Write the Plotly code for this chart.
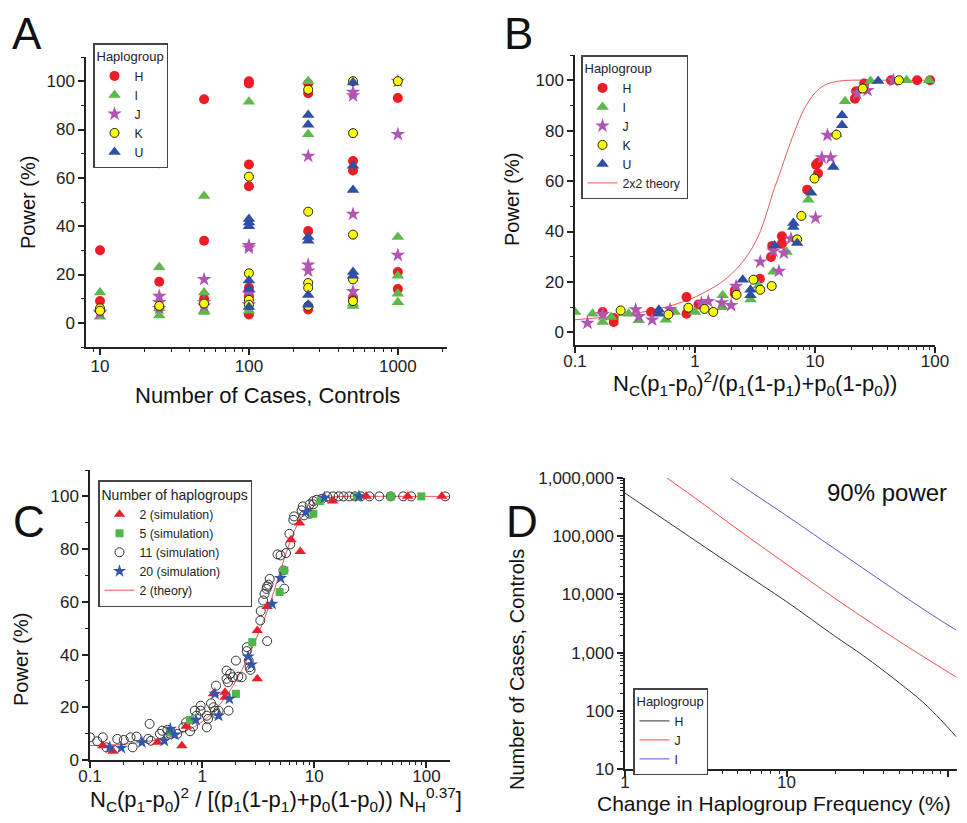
import plotly.graph_objects as go

FONT = "Liberation Sans, Arial, sans-serif"
INK = "#222222"

# ---------------- Panel A data (Power vs number of cases) ----------------
A_H_x = [10, 10, 10, 25, 25, 25, 50, 50, 50, 100, 100, 100, 100, 100, 100, 100, 250, 250, 250, 250, 500, 500, 500, 1000, 1000, 1000]
A_H_y = [30, 9, 5, 66, 17, 6, 92.5, 34, 10, 100, 99, 65.5, 56.5, 14.5, 11, 3.5, 99, 95, 38, 5.5, 67, 63, 10.5, 93, 21, 14]
A_I_x = [10, 10, 25, 25, 25, 50, 50, 50, 50, 100, 100, 250, 250, 500, 500, 1000, 1000, 1000, 1000]
A_I_y = [12.5, 2.5, 23, 6, 3, 52.5, 12.5, 5, 4.5, 91.5, 5, 100, 78, 7, 8, 35.5, 19.5, 12, 8.5]
A_J_x = [10, 10, 25, 25, 25, 50, 50, 50, 100, 100, 100, 100, 250, 250, 250, 500, 500, 500, 500, 1000, 1000, 1000]
A_J_y = [4.5, 4, 11, 8.5, 6, 18, 8.5, 7, 32, 31, 12, 7.5, 69, 24, 21.5, 95.5, 94, 45, 13, 100, 78, 28]
A_K_x = [10, 10, 25, 50, 100, 100, 100, 100, 250, 250, 250, 250, 250, 500, 500, 500, 500, 500, 1000]
A_K_y = [6, 5, 7, 8, 60.5, 20.5, 9.5, 7.5, 96.5, 46, 16.5, 14.5, 7, 100, 78.5, 36.5, 18, 9, 100]
A_U_x = [100, 100, 100, 100, 100, 100, 250, 250, 250, 250, 250, 250, 500, 500, 500, 500, 500]
A_U_y = [43, 41.5, 40, 17.5, 14, 6.5, 86, 82, 35.5, 34, 11.5, 7.5, 99.5, 65, 55, 21, 19.5]

# ---------------- Panel B data (Power vs scaled effect) ----------------
B_H_x = [0.17, 0.21, 0.21, 0.43, 0.85, 0.85, 1.07, 2.15, 2.15, 3.47, 4.3, 4.4, 5.3, 5.3, 8.6, 10.2, 10.6, 10.6, 21.5, 22, 25.7, 43, 71, 91]
B_H_y = [8.1, 5.7, 4.1, 8.1, 14, 7.4, 11.1, 16.7, 15.3, 21.3, 29.9, 34.3, 38.1, 35.2, 56.6, 66.5, 67.3, 63, 92.7, 95.6, 98.7, 100, 100, 100]
B_I_x = [0.1, 0.14, 0.17, 0.2, 0.28, 0.34, 0.57, 0.68, 1.0, 1.7, 1.7, 2.9, 3.4, 4.5, 5.8, 8.8, 15, 17.8, 29, 58, 89]
B_I_y = [8.1, 7.4, 4.1, 6.1, 7.4, 4.8, 5, 8.1, 8.1, 10, 14.7, 13, 18.6, 24, 31.9, 52.6, 78.6, 91.7, 99.7, 100, 100]
B_J_x = [0.127, 0.17, 0.32, 0.34, 0.44, 0.62, 1.13, 1.29, 1.67, 2.0, 2.2, 3.5, 4.5, 5.0, 5.5, 6.3, 10.1, 11.4, 13.5, 12.7, 22.5, 27.4, 45]
B_J_y = [3.7, 7.1, 9, 6.3, 5, 9.1, 11.6, 12.3, 11.8, 10.7, 18.3, 28, 32.3, 24.3, 31.5, 37.2, 45.4, 69.3, 69.3, 78.2, 94.7, 96, 100]
B_K_x = [0.24, 0.6, 0.88, 1.2, 1.42, 2.22, 3.07, 3.5, 4.36, 7.1, 7.7, 9.9, 15.1, 25, 50]
B_K_y = [8.7, 7.1, 9.8, 9.3, 8.1, 14.9, 20.9, 16.9, 18.4, 36.9, 46.2, 61, 78.4, 96.7, 100]
B_U_x = [0.5, 0.5, 2.5, 2.9, 2.9, 4.6, 6.6, 6.6, 7.1, 9.3, 14.2, 16.8, 16.8, 33.6]
B_U_y = [7.4, 9, 20.9, 16.9, 14.7, 34.5, 43.4, 41.8, 35.4, 55.4, 65.6, 82.1, 86.1, 99.7]
B_theory_x = [0.1, 0.2, 0.3, 0.42, 0.6, 0.8, 1.0, 1.5, 2.0, 2.5, 3.0, 3.5, 4.0, 4.5, 5.0, 6.0, 7.0, 8.0, 10, 12, 15, 20, 30, 100]
B_theory_y = [5, 6.3, 7.4, 8.6, 10.3, 12.2, 14, 18.5, 23, 28, 33.5, 40, 48, 56, 62, 73, 81.5, 88, 95, 98, 99.5, 100, 100, 100]

# ---------------- Panel C data (number of haplogroups) ----------------
C_2_x = [0.13, 0.16, 0.40, 0.66, 0.72, 1.26, 1.6, 1.6, 3.1, 3.1, 3.8, 6.2, 7.4, 7.5, 14.6, 29, 68, 137]
C_2_y = [5.4, 3.3, 6.7, 5.4, 12.8, 25.1, 25.7, 23.8, 30.8, 49.1, 58.2, 83.5, 89.9, 79.1, 98.2, 100, 100, 100]
C_5_x = [0.52, 0.78, 2.0, 2.8, 4.9, 5.4, 9.8, 11.3, 24, 48, 90]
C_5_y = [10.5, 15.2, 25.1, 44.7, 63.7, 71.9, 93.4, 98.2, 100, 100, 100]
C_11_x = [0.1, 0.116, 0.13, 0.14, 0.175, 0.2, 0.23, 0.24, 0.26, 0.33, 0.34, 0.35, 0.42, 0.44, 0.49, 0.52, 0.6,
          0.68, 0.72, 0.78, 0.83, 0.86, 0.89, 0.97, 0.97, 1.1, 1.1, 1.13, 1.2, 1.26, 1.3, 1.34, 1.4, 1.33, 1.65,
          1.65, 1.7, 1.72, 1.78, 1.87, 2.0, 2.1, 2.25, 2.5, 2.5, 2.6, 2.65, 2.7, 3.3, 3.33, 3.5, 3.6, 3.75, 3.8,
          4.0, 3.8, 3.9, 4.7, 5.0, 5.3, 5.4, 5.6, 6.0, 6.1, 6.5, 6.6, 7.7, 7.9, 8.1, 9.1, 9.1, 9.8, 9.8, 10.5,
          11.7, 13, 14.7, 16.5, 18.2, 20.5, 23, 26, 31, 38, 48, 62, 73, 147]
C_11_y = [8.6, 7.1, 8.6, 4.8, 8, 7.6, 8.6, 4.8, 8.9, 8, 13.7, 7.3, 9.9, 11.1, 11.4, 9.9, 9.9,
          12.4, 14.3, 10.9, 12.7, 18.7, 16.8, 20.6, 18.7, 16.8, 12.4, 15.6, 21.5, 20, 18.7, 17.5, 18.7, 28.2, 33.9,
          30.8, 29.5, 18.7, 32.7, 31.4, 37.7, 31.6, 31.4, 42.8, 41.3, 37.7, 35.2, 34.2, 52.9, 56.5, 60.5, 63, 64.9, 65.8,
          68.7, 45.1, 66.5, 78, 77.6, 71.9, 65, 78.5, 85.8, 81.8, 91.1, 92.4, 94.7, 96.2, 92.8, 97, 93.4, 98.2, 97, 98.7,
          99.1, 100, 100, 100, 100, 100, 100, 100, 100, 100, 100, 100, 100, 100]
C_20_x = [0.15, 0.19, 0.29, 0.46, 0.52, 0.57, 0.88, 1.3, 1.4, 1.75, 2.57, 2.75, 4.2, 5.0, 8.4, 12.3, 25]
C_20_y = [4.8, 4.6, 6.7, 7.3, 11.8, 9.6, 15.2, 25.1, 16.8, 23.2, 39.2, 36.2, 59.2, 69, 94, 99.5, 100]
C_theory_x = [0.1, 0.2, 0.3, 0.5, 0.7, 1.0, 1.5, 2, 2.5, 3, 3.5, 4, 5, 6, 7, 8, 10, 12, 15, 20, 50, 180]
C_theory_y = [5.5, 6, 6.8, 8.6, 10.8, 14.5, 22, 30, 38, 45.5, 52.5, 59, 72, 82, 89, 93, 97.5, 99, 99.8, 100, 100, 100]

# ---------------- Panel D data (sample size for 90% power) ----------------
D_H_x = [1, 2, 5, 10, 20, 30, 50, 70, 90, 112]
D_H_y = [550000, 150000, 27000, 7500, 1900, 880, 300, 140, 70, 36]
D_J_x = [1.82, 3, 5, 10, 20, 50, 80, 112]
D_J_y = [1000000, 370000, 130000, 33000, 8500, 1550, 680, 380]
D_I_x = [4.5, 6, 10, 20, 50, 80, 112]
D_I_y = [1000000, 580000, 225000, 60000, 10500, 4400, 2450]

C_RED = "#ee1c25"
C_GREEN = "#5cb94a"
C_PINK = "#b155b5"
C_YELLOW = "#ffff00"
C_BLUE = "#2e4fa3"

fig = go.Figure()


def sc(x, y, name, sym, color, size, xa, ya, legend, line=None, rank=1000):
    fig.add_trace(go.Scatter(
        x=x, y=y, mode="markers", name=name, xaxis=xa, yaxis=ya, legend=legend, legendrank=rank,
        marker=dict(symbol=sym, color=color, size=size,
                    line=line if line else dict(width=0))))


# Panel A
sc(A_H_x, A_H_y, "H", "circle", C_RED, 10, "x", "y", "legend")
sc(A_I_x, A_I_y, "I", "triangle-up", C_GREEN, 11, "x", "y", "legend")
sc(A_J_x, A_J_y, "J", "star", C_PINK, 11, "x", "y", "legend")
sc(A_K_x, A_K_y, "K", "circle", C_YELLOW, 9, "x", "y", "legend", dict(width=1, color="#222"))
sc(A_U_x, A_U_y, "U", "triangle-up", C_BLUE, 11, "x", "y", "legend")

# Panel B
fig.add_trace(go.Scatter(x=B_theory_x, y=B_theory_y, mode="lines", name="2x2 theory",
                         xaxis="x2", yaxis="y2", legend="legend2", legendrank=1100,
                         line=dict(color="#ea5a5a", width=1, shape="spline")))
sc(B_H_x, B_H_y, "H", "circle", C_RED, 10, "x2", "y2", "legend2")
sc(B_I_x, B_I_y, "I", "triangle-up", C_GREEN, 11, "x2", "y2", "legend2")
sc(B_J_x, B_J_y, "J", "star", C_PINK, 11, "x2", "y2", "legend2")
sc(B_K_x, B_K_y, "K", "circle", C_YELLOW, 9, "x2", "y2", "legend2", dict(width=1, color="#222"))
sc(B_U_x, B_U_y, "U", "triangle-up", C_BLUE, 11, "x2", "y2", "legend2")

# Panel C
fig.add_trace(go.Scatter(x=C_theory_x, y=C_theory_y, mode="lines", name="2 (theory)",
                         xaxis="x3", yaxis="y3", legend="legend3", legendrank=1100,
                         line=dict(color="#ea5a5a", width=1, shape="spline")))
sc(C_11_x, C_11_y, "11 (simulation)", "circle-open", "#333333", 9, "x3", "y3", "legend3",
   dict(width=1, color="#333"), rank=1000)
sc(C_2_x, C_2_y, "2 (simulation)", "triangle-up", "#e8202a", 10, "x3", "y3", "legend3", rank=900)
sc(C_5_x, C_5_y, "5 (simulation)", "square", "#4cb848", 8, "x3", "y3", "legend3", rank=950)
sc(C_20_x, C_20_y, "20 (simulation)", "star", "#3355aa", 10, "x3", "y3", "legend3", rank=1050)

# Panel D
for xs, ys, nm, col in [(D_H_x, D_H_y, "H", "#333333"), (D_J_x, D_J_y, "J", "#ff4a4a"), (D_I_x, D_I_y, "I", "#5a5ad0")]:
    fig.add_trace(go.Scatter(x=xs, y=ys, mode="lines", name=nm, xaxis="x4", yaxis="y4", legend="legend4",
                             line=dict(color=col, width=1, shape="spline")))

# the page body adds an 8px margin around the figure; positions below are page pixels
OFF = 8
W, H = 967 - 2 * OFF, 823 - 2 * OFF


def px(x):
    return (x - OFF) / W


def py(y):
    return 1 - (y - OFF) / H


def dx(a, b):
    return [px(a), px(b)]


def dy(top, bottom):
    return [py(bottom), py(top)]


def axis(**kw):
    d = dict(showline=True, linecolor=INK, linewidth=1.5, ticks="outside", ticklen=6, tickwidth=1.5,
             tickcolor=INK, showgrid=False, zeroline=False, mirror=False, automargin=False,
             tickfont=dict(family=FONT, size=17, color=INK))
    d.update(kw)
    return d


def logminor(decades):
    vals = []
    for e in decades:
        for m in range(2, 10):
            vals.append(m * 10 ** e)
    return vals


minor_lin = dict(ticks="outside", ticklen=3, tickwidth=1.2, tickcolor=INK, dtick=10, tick0=0)

fig.update_layout(
    width=W, height=H, margin=dict(l=0, r=0, t=0, b=0, autoexpand=False),
    paper_bgcolor="white", plot_bgcolor="white",
    font=dict(family=FONT, color=INK),
    xaxis=axis(type="log", domain=dx(86, 447), range=[0.906, 3.33], anchor="y", ticklabelstandoff=-3,
               tickvals=[10, 100, 1000], ticktext=["10", "100", "1000"],
               minor=dict(ticks="outside", ticklen=3, tickwidth=1.2, tickcolor=INK,
                          tickvals=[8, 9] + logminor([1, 2]) + [2000])),
    yaxis=axis(domain=dy(57, 347), range=[-10, 110], anchor="x",
               tickvals=[0, 20, 40, 60, 80, 100], minor=minor_lin),
    xaxis2=axis(type="log", domain=dx(575, 935), range=[-1, 2], anchor="y2", ticklabelstandoff=-6,
                tickvals=[0.1, 1, 10, 100], ticktext=["0.1", "1", "10", "100"],
                minor=dict(ticks="outside", ticklen=3, tickwidth=1.2, tickcolor=INK,
                           tickvals=logminor([-1, 0, 1]))),
    yaxis2=axis(domain=dy(55, 345), range=[-5, 110], anchor="x2",
                tickvals=[0, 20, 40, 60, 80, 100], minor=minor_lin),
    xaxis3=axis(type="log", domain=dx(90, 450), range=[-1, 2.21], anchor="y3", ticklabelstandoff=-6,
                tickvals=[0.1, 1, 10, 100], ticktext=["0.1", "1", "10", "100"],
                minor=dict(ticks="outside", ticklen=3, tickwidth=1.2, tickcolor=INK,
                           tickvals=logminor([-1, 0, 1]))),
    yaxis3=axis(domain=dy(470, 760), range=[0, 110], anchor="x3",
                tickvals=[0, 20, 40, 60, 80, 100], minor=minor_lin),
    xaxis4=axis(type="log", domain=dx(625, 957), range=[0, 2.055], anchor="y4", ticklabelstandoff=-9,
                tickvals=[1, 10, 100], ticktext=["1", "10", "100"],
                minor=dict(ticks="outside", ticklen=3, tickwidth=1.2, tickcolor=INK,
                           tickvals=logminor([0, 1]))),
    yaxis4=axis(type="log", domain=dy(478, 769), range=[1, 6], anchor="x4",
                tickvals=[10, 100, 1000, 10000, 100000, 1000000],
                ticktext=["10", "100", "1,000", "10,000", "100,000", "1,000,000"],
                minor=dict(ticks="outside", ticklen=3, tickwidth=1.2, tickcolor=INK,
                           tickvals=logminor([1, 2, 3, 4, 5]))),
)

leg_common = dict(xanchor="left", yanchor="top", bgcolor="white", bordercolor="#444", borderwidth=1.5,
                  font=dict(family=FONT, size=12.3, color=INK), itemclick=False,
                  tracegroupgap=0, traceorder="normal")

fig.update_layout(
    legend=dict(x=px(93), y=py(43), title=dict(text="Haplogroup", font=dict(size=13)), **leg_common),
    legend2=dict(x=px(581), y=py(55), title=dict(text="Haplogroup", font=dict(size=13)), **leg_common),
    legend3=dict(x=px(98), y=py(480), title=dict(text="Number of haplogroups", font=dict(size=14)),
                 **leg_common),
    legend4=dict(x=px(633), y=py(688), title=dict(text="Haplogroup", font=dict(size=13)), **leg_common),
)

ann = []


def text(x, y, s, size, angle=0, anchor="center"):
    ann.append(dict(x=px(x), y=py(y), xref="paper", yref="paper", text=s, showarrow=False,
                    textangle=angle, xanchor=anchor, yanchor="middle",
                    font=dict(family=FONT, size=size, color="#111")))


text(27, 33, "A", 44)
text(518, 33, "B", 44)
text(29, 521, "C", 44)
text(522, 521, "D", 44)

text(28, 203, "Power (%)", 20, -90)
text(512, 200, "Power (%)", 20, -90)
text(21, 660, "Power (%)", 20, -90)
text(517, 670, "Number of Cases, Controls", 20, -90)

text(267, 395, "Number of Cases, Controls", 22)
text(755, 383, "N<sub>C</sub>(p<sub>1</sub>-p<sub>0</sub>)<sup>2</sup>/(p<sub>1</sub>(1-p<sub>1</sub>)+p<sub>0</sub>(1-p<sub>0</sub>))", 22)
text(276, 799, "N<sub>C</sub>(p<sub>1</sub>-p<sub>0</sub>)<sup>2</sup> / [(p<sub>1</sub>(1-p<sub>1</sub>)+p<sub>0</sub>(1-p<sub>0</sub>)) N<sub>H</sub><sup>0.37</sup>]", 22)
text(774, 803, "Change in Haplogroup Frequency (%)", 21)
text(887, 492, "90% power", 24)

fig.update_layout(annotations=ann)

fig.write_html("out.html")
